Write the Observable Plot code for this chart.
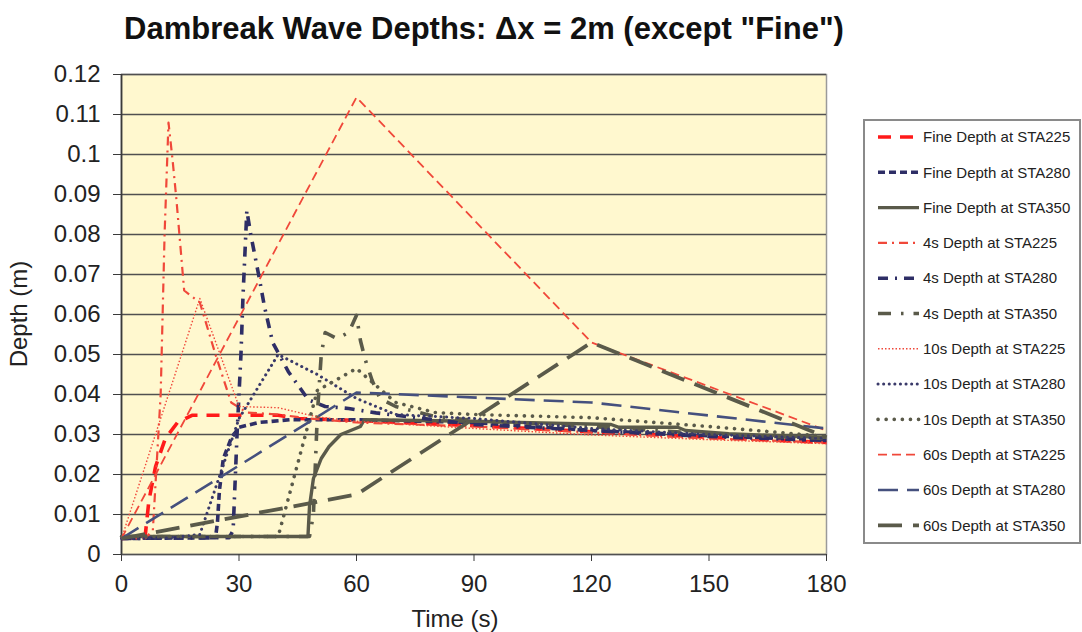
<!DOCTYPE html>
<html><head><meta charset="utf-8">
<script src="https://cdn.jsdelivr.net/npm/d3@7"></script>
<script src="https://cdn.jsdelivr.net/npm/@observablehq/plot@0.6"></script>
<style>
body{margin:0;background:#fff;font-family:"Liberation Sans",Arial,sans-serif;}
#title{position:absolute;left:0;top:11px;width:968px;text-align:center;font-weight:bold;font-size:31px;color:#111;line-height:normal;white-space:nowrap;}
#chart{position:absolute;left:0;top:60px;}
</style></head><body>
<div id="title">Dambreak Wave Depths: Δx = 2m (except "Fine")</div>
<div id="chart"></div>
<script>
// ---- data (time s, depth m) ----
const seriesNames = [
  "Fine Depth at STA225","Fine Depth at STA280","Fine Depth at STA350",
  "4s Depth at STA225","4s Depth at STA280","4s Depth at STA350",
  "10s Depth at STA225","10s Depth at STA280","10s Depth at STA350",
  "60s Depth at STA225","60s Depth at STA280","60s Depth at STA350"
];
const fine225 = [[0,0.004],[6,0.0042],[7,0.0135],[8.7,0.022],[11.2,0.029],[14.3,0.033],[18,0.0348],[40,0.0348],[45,0.034],[60,0.0335],[90,0.0322],[120,0.0307],[150,0.0293],[180,0.028]];
const fine280 = [[0,0.004],[24,0.0042],[24.5,0.008],[25,0.016],[26,0.024],[28,0.029],[30,0.0318],[35,0.033],[43,0.0337],[60,0.0337],[90,0.033],[120,0.031],[150,0.0297],[180,0.0285]];
const fine350 = [[0,0.0045],[47.6,0.0045],[48,0.012],[49,0.019],[51,0.024],[53,0.027],[56,0.030],[61,0.032],[62,0.0337],[90,0.0333],[125,0.0325],[127,0.0318],[142,0.0318],[144,0.031],[155,0.0302],[173,0.0295],[180,0.0293]];
const s4_225 = [[0,0.004],[6,0.004],[8,0.006],[10,0.04],[11,0.08],[12,0.108],[13,0.099],[14,0.089],[16,0.066],[20,0.063],[24,0.05],[28,0.038],[32,0.0355],[40,0.035],[48,0.034],[60,0.033],[90,0.032],[120,0.0305],[150,0.029],[180,0.028]];
const s4_280 = [[0,0.004],[27.5,0.0042],[28.5,0.006],[29.5,0.03],[30.5,0.05],[31,0.064],[32,0.086],[33,0.08],[35,0.07],[36.5,0.062],[38.6,0.053],[42.6,0.0457],[47.7,0.0387],[52,0.037],[58,0.0365],[65,0.0354],[90,0.0325],[120,0.031],[150,0.0295],[180,0.0285]];
const s4_350 = [[0,0.0045],[48,0.0045],[49,0.01],[50,0.035],[51,0.05],[52,0.0555],[55,0.054],[58,0.0555],[60,0.0598],[61,0.0535],[62.3,0.0485],[64,0.0435],[66,0.039],[70,0.037],[80,0.0345],[90,0.0335],[120,0.032],[150,0.0302],[180,0.029]];
const s10_225 = [[0,0.004],[10,0.034],[20,0.064],[30,0.037],[40,0.0367],[50,0.0344],[60,0.0333],[70,0.0327],[90,0.0315],[120,0.0299],[150,0.0287],[180,0.0277]];
const s10_280 = [[0,0.004],[10,0.004],[20,0.005],[30,0.034],[40,0.050],[50,0.045],[60,0.039],[70,0.035],[90,0.034],[120,0.0315],[150,0.030],[180,0.029]];
const s10_350 = [[0,0.0045],[40,0.0045],[50,0.041],[60,0.0465],[70,0.038],[80,0.0355],[90,0.035],[120,0.0342],[150,0.032],[180,0.0295]];
const s60_225 = [[0,0.004],[60,0.1143],[120,0.053],[180,0.031]];
const s60_280 = [[0,0.004],[60,0.0405],[120,0.038],[180,0.0315]];
const s60_350 = [[0,0.004],[60,0.015],[120,0.053],[180,0.0293]];
const seriesData = [fine225,fine280,fine350,s4_225,s4_280,s4_350,s10_225,s10_280,s10_350,s60_225,s60_280,s60_350];
const xTicks = [0,30,60,90,120,150,180];
const yTicks = [0,0.01,0.02,0.03,0.04,0.05,0.06,0.07,0.08,0.09,0.1,0.11,0.12];
const yTickLabels = ["0","0.01","0.02","0.03","0.04","0.05","0.06","0.07","0.08","0.09","0.1","0.11","0.12"];
const xTitle = "Time (s)";
const yTitle = "Depth (m)";

// ---- styles ----
const styles = [
  {stroke:"#FF1A1A", w:3.6, dash:"13,9", cap:"butt"},
  {stroke:"#2E2E66", w:3.6, dash:"7,4", cap:"butt"},
  {stroke:"#5A5A4A", w:3.4, dash:null, cap:"butt"},
  {stroke:"#F0483A", w:2.2, dash:"9,5,2,5", cap:"butt"},
  {stroke:"#2E2E66", w:3.6, dash:"10,7,2,7", cap:"butt"},
  {stroke:"#5A5A4A", w:3.6, dash:"13,10,2.5,10", cap:"butt"},
  {stroke:"#F0483A", w:1.4, dash:"1.5,2", cap:"butt"},
  {stroke:"#3A3A6A", w:3, dash:"0.1,5.5", cap:"round"},
  {stroke:"#5A5A4A", w:3.6, dash:"0.1,8", cap:"round"},
  {stroke:"#F0483A", w:1.8, dash:"9,5", cap:"butt"},
  {stroke:"#45507E", w:2.6, dash:"20,9", cap:"butt"},
  {stroke:"#5A5A4A", w:3.8, dash:"24,11", cap:"butt"}
];

const rows = seriesData.map((arr, i) => arr.map(([t, d]) => ({series: seriesNames[i], t, d})));

const font = '"Liberation Sans", Arial, sans-serif';
const svg = Plot.plot({
  width: 1082, height: 572,
  marginLeft: 121, marginRight: 256, marginTop: 14, marginBottom: 78,
  style: {fontFamily: font, fontSize: "24px", color: "#222", background: "transparent"},
  x: {domain: [0, 180]},
  y: {domain: [0, 0.12]},
  marks: [
    Plot.frame({fill: "#FFF8CF", stroke: "#9a9a9a", strokeWidth: 1.5}),
    Plot.ruleY(yTicks, {stroke: "#505050", strokeWidth: 1.7}),
    Plot.ruleX([0], {stroke: "#3a3a3a", strokeWidth: 1.7}),
    ...rows.map((r, i) => Plot.line(r, {
      x: "t", y: "d", stroke: styles[i].stroke, strokeWidth: styles[i].w,
      strokeDasharray: styles[i].dash, strokeLinecap: styles[i].cap, strokeLinejoin: "round"
    })),
    Plot.axisX({ticks: xTicks, tickSize: 7, tickPadding: 13, tickFormat: d => String(d),
      label: null, stroke: "#3a3a3a"}),
    Plot.axisY({ticks: yTicks, tickSize: 8, tickPadding: 13, tickFormat: (d, i) => yTickLabels[i],
      label: null, stroke: "#3a3a3a"})
  ]
});
document.getElementById("chart").appendChild(svg);

const root = d3.select(svg);
// axis titles
root.append("text").attr("x", 455).attr("y", 567).attr("text-anchor", "middle")
  .attr("font-family", font).attr("font-size", 24).attr("fill", "#222").text(xTitle);
root.append("text").attr("transform", "translate(27,254) rotate(-90)").attr("text-anchor", "middle")
  .attr("font-family", font).attr("font-size", 24).attr("fill", "#222").text(yTitle);

// ---- legend (inside the SVG, right side) ----
const lg = root.append("g").attr("font-family", font).attr("font-size", 15).attr("fill", "#222");
lg.append("rect").attr("x", 864).attr("y", 60).attr("width", 216).attr("height", 423)
  .attr("fill", "#fff").attr("stroke", "#8a8a8a").attr("stroke-width", 2);
seriesNames.forEach((name, i) => {
  const y = 77 + i * 35.3;
  const s = styles[i];
  lg.append("line").attr("x1", 878).attr("x2", 919).attr("y1", y).attr("y2", y)
    .attr("stroke", s.stroke).attr("stroke-width", s.w)
    .attr("stroke-dasharray", s.dash).attr("stroke-linecap", s.cap);
  lg.append("text").attr("x", 923).attr("y", y).attr("dy", "0.35em").attr("text-anchor", "start").text(name);
});
</script></body></html>
